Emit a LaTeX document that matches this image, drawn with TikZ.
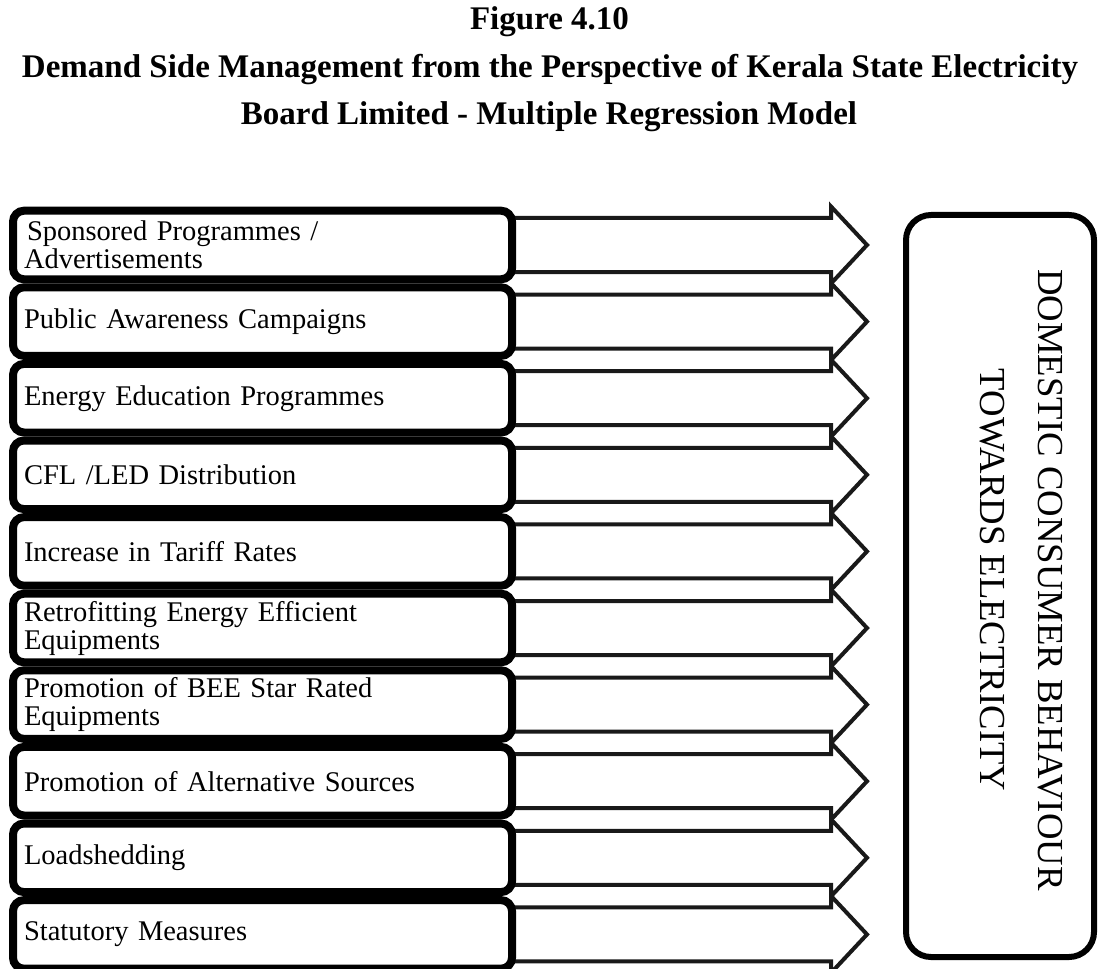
\documentclass[tikz,border=0pt]{standalone}
\usepackage{fontspec}
\setmainfont{Liberation Serif}
\newfontfamily\labelfont{Liberation Serif}[WordSpace=0.8]
\usetikzlibrary{calc,shadows}
\pgfdeclarelayer{arrowlayer}
\pgfsetlayers{arrowlayer,main}
\begin{document}
\begin{tikzpicture}[x=1pt,y=-1pt,
  title/.style={font=\bfseries\fontsize{33}{33}\selectfont, inner sep=0pt},
  factor/.style={draw=black, line width=8pt, rounded corners=11pt, fill=white,
    minimum width=499pt, minimum height=68.6pt, text width=477pt, align=left,
    inner xsep=11pt, inner ysep=0pt, anchor=west,
    font=\labelfont\fontsize{28.5}{28}\selectfont,
    drop shadow={shadow xshift=3pt, shadow yshift=-2pt, fill=black, opacity=0.18}},
  blockarrow/.style={draw=black!90, line width=4pt, fill=white, line join=miter},
  outcome/.style={draw=black, line width=6pt, rounded corners=25pt, fill=white,
    minimum width=188pt, minimum height=742pt, inner sep=0pt},
  outtext/.style={rotate=-90, align=center, inner sep=0pt,
    font=\fontsize{36.7}{58}\selectfont}]
\useasboundingbox (0,0) rectangle (1099,968);

% headings
\node[title] (t1) at (549.5,22) {Figure 4.10};
\node[title] (t2) at (550,70) {Demand Side Management from the Perspective of Kerala State Electricity};
\node[title] (t3) at (549,117) {Board Limited - Multiple Regression Model};

% outcome box
\node[outcome] (out) at (1000,586) {};
\node[outtext] (outlabel) at (1021,580) {DOMESTIC CONSUMER BEHAVIOUR\\TOWARDS ELECTRICITY};

% factor boxes
\foreach \i/\t in {
  1/{\hspace{3pt}Sponsored Programmes /\\Advertisements},
  2/{Public Awareness Campaigns},
  3/{Energy Education Programmes},
  4/{CFL /LED Distribution},
  5/{Increase in Tariff Rates},
  6/{Retrofitting Energy Efficient\\Equipments},
  7/{Promotion of BEE Star Rated\\Equipments},
  8/{Promotion of Alternative Sources},
  9/{Loadshedding},
  10/{Statutory Measures}}{
  \node[factor] (b\i) at (9,{245+(\i-1)*76.6}) {\t};
}

% block arrows from each factor towards the outcome box
\begin{pgfonlayer}{arrowlayer}
\foreach \i in {1,...,10}{
  \draw[blockarrow] ($(b\i.east)+(-10,-27)$) -- ++(325,0) -- ++(0,-11.5)
    -- ++(36,38.5) -- ++(-36,38.5) -- ++(0,-11.5) -- ++(-325,0) -- cycle;
}
\end{pgfonlayer}
\end{tikzpicture}
\end{document}
